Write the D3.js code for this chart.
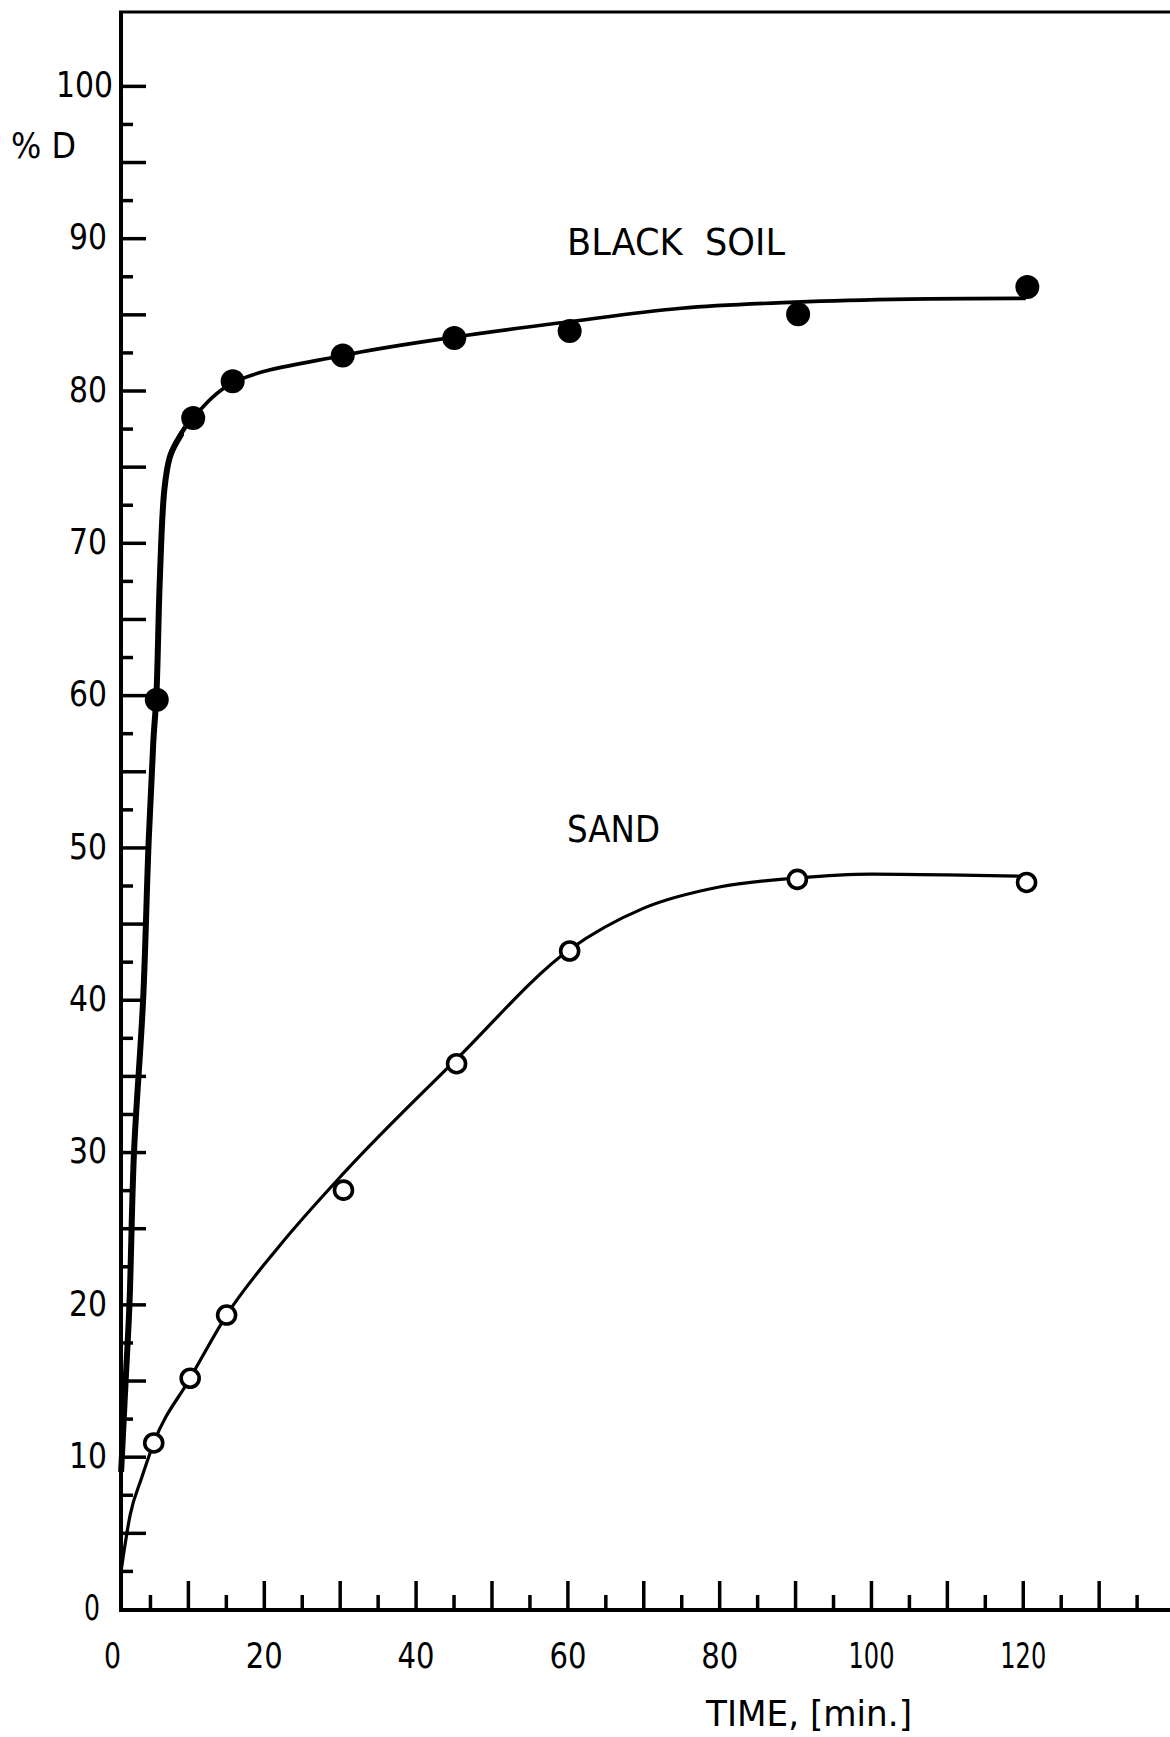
<!DOCTYPE html>
<html>
<head>
<meta charset="utf-8">
<script src="https://cdn.jsdelivr.net/npm/d3@7"></script>
<style>
  html, body { margin: 0; padding: 0; background: #fff; }
  svg { display: block; }
</style>
</head>
<body>
<svg id="chart" width="1170" height="1737"></svg>
<script>
// ---------------- DATA ----------------
const xTickLabels = [0, 20, 40, 60, 80, 100, 120];
const yTickLabels = [0, 10, 20, 30, 40, 50, 60, 70, 80, 90, 100];
const xMajorTicks = [10, 20, 30, 40, 50, 60, 70, 80, 90, 100, 110, 120, 130];
const xMinorTicks = [5, 15, 25, 35, 45, 55, 65, 75, 85, 95, 105, 115, 125, 135];
const yMajorTicks = [5, 10, 15, 20, 25, 30, 35, 40, 45, 50, 55, 60, 65, 70, 75, 80, 85, 90, 95, 100];
const yMinorTicks = [2.5, 7.5, 12.5, 17.5, 22.5, 27.5, 32.5, 37.5, 42.5, 47.5, 52.5, 57.5, 62.5, 67.5, 72.5, 77.5, 82.5, 87.5, 92.5, 97.5];

// measured points (time in min, %D)
const blackSoilTime = [5.9, 10.7, 15.9, 30.4, 45.1, 60.3, 90.4, 120.6];
const blackSoilPct  = [59.7, 78.2, 80.6, 82.3, 83.45, 83.9, 85.0, 86.8];
const sandTime = [5.5, 10.3, 15.1, 30.5, 45.4, 60.3, 90.3, 120.5];
const sandPct  = [10.9, 15.15, 19.3, 27.5, 35.8, 43.2, 47.9, 47.7];

// hand-drawn fitted curves
const blackSoilCurveTime = [1.2, 1.8, 2.3, 2.9, 4.1, 4.8, 5.45, 5.85, 6.3, 6.9, 7.6, 8.5, 10.7, 15.9, 30.4, 45, 60, 75, 90, 105, 120.4];
const blackSoilCurvePct  = [9, 15, 20, 30, 40, 50, 57, 60, 67.6, 73.5, 75.6, 76.6, 78.2, 80.5, 82.3, 83.5, 84.5, 85.4, 85.8, 86.0, 86.05];
const sandCurveTime = [1.2, 2.4, 3.9, 5.5, 10.3, 15.1, 22, 30.5, 45.4, 60.3, 70, 80, 90.3, 100, 110, 120.4];
const sandCurvePct  = [2.5, 6.2, 8.6, 10.9, 15.15, 19.3, 23.8, 28.6, 36.1, 43.3, 46.0, 47.4, 48.0, 48.25, 48.2, 48.1];

const seriesLabels = ["BLACK  SOIL", "SAND"];
const xAxisTitle = "TIME, [min.]";
const yAxisTitle = "% D";

// ---------------- DRAWING ----------------
const FONT = "DejaVu Sans, Liberation Sans, sans-serif";
const svg = d3.select("#chart");
const x = d3.scaleLinear().domain([0, 139.4]).range([112, 1170]);
const y = d3.scaleLinear().domain([0, 104.85]).range([1609, 12]);
const AX = 121, AY = 1610;

// frame
svg.append("line").attr("x1", AX).attr("x2", AX).attr("y1", y.range()[1]).attr("y2", AY + 2)
  .attr("stroke", "#000").attr("stroke-width", 4);
svg.append("line").attr("x1", AX - 2).attr("x2", 1170).attr("y1", y.range()[1]).attr("y2", y.range()[1])
  .attr("stroke", "#000").attr("stroke-width", 3);
svg.append("line").attr("x1", AX - 2).attr("x2", 1170).attr("y1", AY).attr("y2", AY)
  .attr("stroke", "#000").attr("stroke-width", 4);

// y ticks (pointing inward)
svg.append("g").attr("transform", `translate(${AX},0)`)
  .call(d3.axisLeft(y).tickValues(yMajorTicks).tickSize(-25).tickSizeOuter(0).tickFormat(""));
svg.append("g").attr("transform", `translate(${AX},0)`)
  .call(d3.axisLeft(y).tickValues(yMinorTicks).tickSize(-12).tickSizeOuter(0).tickFormat(""));
const yLab = svg.append("g").attr("transform", `translate(${AX},0)`)
  .call(d3.axisLeft(y).tickValues(yTickLabels).tickSize(0).tickSizeOuter(0).tickPadding(14));

// x ticks (pointing upward)
svg.append("g").attr("transform", `translate(0,${AY})`)
  .call(d3.axisBottom(x).tickValues(xMajorTicks).tickSize(-29).tickSizeOuter(0).tickFormat(""));
svg.append("g").attr("transform", `translate(0,${AY})`)
  .call(d3.axisBottom(x).tickValues(xMinorTicks).tickSize(-15).tickSizeOuter(0).tickFormat(""));
const xLab = svg.append("g").attr("transform", `translate(0,${AY})`)
  .call(d3.axisBottom(x).tickValues(xTickLabels).tickSize(0).tickSizeOuter(0).tickPadding(32));

svg.selectAll(".domain").remove();
svg.selectAll(".tick line").attr("stroke", "#000").attr("stroke-width", 3.5);

const yLen = {1: 16, 2: 38, 3: 57};
const yShift = {1: -7, 2: 0, 3: 6};
yLab.attr("font-family", FONT).attr("font-size", 36);
yLab.selectAll("text").attr("fill", "#000").attr("dy", "0.3em")
  .attr("dx", d => yShift[String(d).length])
  .attr("textLength", d => yLen[String(d).length]).attr("lengthAdjust", "spacingAndGlyphs");

const xLen = {1: 17, 2: 37, 3: 46};
xLab.attr("font-family", FONT).attr("font-size", 36);
xLab.selectAll("text").attr("fill", "#000")
  .attr("textLength", d => xLen[String(d).length]).attr("lengthAdjust", "spacingAndGlyphs");

// curves
const blackLine = d3.line().x(d => x(d[0])).y(d => y(d[1])).curve(d3.curveCatmullRom.alpha(0.5));
const sandLine = d3.line().x(d => x(d[0])).y(d => y(d[1])).curve(d3.curveMonotoneX);
const blackCurve = d3.zip(blackSoilCurveTime, blackSoilCurvePct);
const sandCurve = d3.zip(sandCurveTime, sandCurvePct);

svg.append("defs").append("clipPath").attr("id", "steep")
  .append("rect").attr("x", 0).attr("y", 0).attr("width", x(9.5)).attr("height", 1737);

svg.append("path").datum(blackCurve).attr("d", blackLine)
  .attr("fill", "none").attr("stroke", "#000").attr("stroke-width", 3.6).attr("stroke-linejoin", "round");
svg.append("path").datum(blackCurve).attr("d", blackLine).attr("clip-path", "url(#steep)")
  .attr("fill", "none").attr("stroke", "#000").attr("stroke-width", 6).attr("stroke-linejoin", "round");
svg.append("path").datum(sandCurve).attr("d", sandLine)
  .attr("fill", "none").attr("stroke", "#000").attr("stroke-width", 3.2).attr("stroke-linejoin", "round");

// markers
svg.append("g").selectAll("circle").data(d3.zip(blackSoilTime, blackSoilPct)).join("circle")
  .attr("cx", d => x(d[0])).attr("cy", d => y(d[1])).attr("r", 12).attr("fill", "#000");
svg.append("g").selectAll("circle").data(d3.zip(sandTime, sandPct)).join("circle")
  .attr("cx", d => x(d[0])).attr("cy", d => y(d[1])).attr("r", 9)
  .attr("fill", "#fff").attr("stroke", "#000").attr("stroke-width", 3.6);

// texts
function label(txt, px, py, size, len) {
  svg.append("text").text(txt).attr("x", px).attr("y", py)
    .attr("font-family", FONT).attr("font-size", size).attr("fill", "#000")
    .attr("textLength", len).attr("lengthAdjust", "spacingAndGlyphs")
    .style("white-space", "pre");
}
label(seriesLabels[0], 567, 255, 38, 218);
label(seriesLabels[1], 567, 842, 38, 93);
label(xAxisTitle, 706, 1726, 36, 206);
label(yAxisTitle, 11, 158, 36, 65);
</script>
</body>
</html>
